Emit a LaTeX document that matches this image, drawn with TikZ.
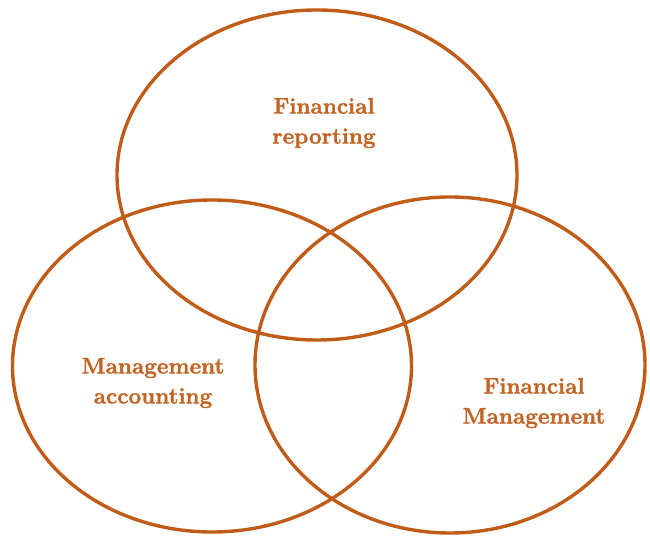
\documentclass[tikz,border=0pt]{standalone}
\usepackage{fontspec}
\setmainfont{Latin Modern Roman}[BoldFeatures={FakeBold=1.6}]
\usetikzlibrary{shapes.geometric}
\definecolor{rust}{RGB}{192,92,24}
\definecolor{rusttext}{RGB}{194,100,36}
\begin{document}
\begin{tikzpicture}[x=1pt,y=1pt,
  ring/.style={ellipse, draw=rust, line width=3.4pt, inner sep=0pt},
  lbl/.style={text=rusttext, align=center, font=\fontsize{22.5}{30}\selectfont\bfseries}]
\useasboundingbox (0,0) rectangle (650,535);
\node[ring, minimum width=400pt, minimum height=330pt] (top) at (317,360) {};
\node[ring, minimum width=399pt, minimum height=332pt] (left) at (212,169) {};
\node[ring, minimum width=390pt, minimum height=336pt] (right) at (450,170) {};
\node[lbl] (tl) at (324,412) {Financial\\reporting};
\node[lbl] (ll) at (153,152) {Management\\accounting};
\node[lbl] (rl) at (534,132) {Financial\\Management};
\end{tikzpicture}
\end{document}
